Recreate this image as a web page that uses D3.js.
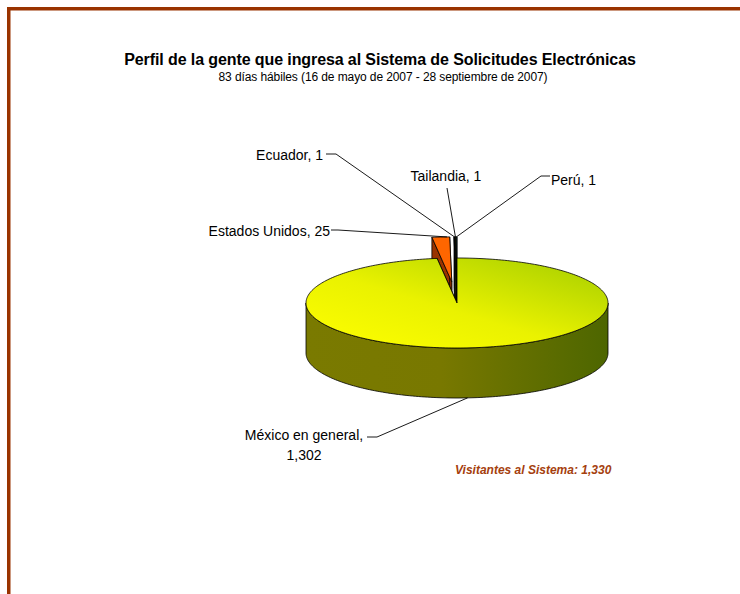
<!DOCTYPE html>
<html>
<head>
<meta charset="utf-8">
<script src="https://cdn.jsdelivr.net/npm/d3@7"></script>
<style>
  body { margin: 0; background: #fff; }
  svg text { font-family: "Liberation Sans", Arial, sans-serif; }
</style>
</head>
<body>
<svg id="chart"></svg>
<script>
// Data
var countries = ["México en general", "Estados Unidos", "Ecuador", "Tailandia", "Perú"];
var visitors = [1302, 25, 1, 1, 1];
var totalLabel = "Visitantes al Sistema: 1,330";
var title = "Perfil de la gente que ingresa al Sistema de Solicitudes Electrónicas";
var subtitle = "83 días hábiles (16 de mayo de 2007 - 28 septiembre de 2007)";

// Style
var explode = [0, 0.47, 0.47, 0.47, 0.47];
var topColors = ["url(#mexTop)", "#ff6600", "#1f4e79", "#ffff00", "#2e8b9a"];
var sideColors = ["url(#mexSide)", "#993300", "#0f2a44", "#99991a", "#1b5560"];

// Label placement: text anchor point, where the short tick ends, which slice it points at
var labelLayout = [
    {x: 304, y: 440, anchor: "middle", tick: [[367, 437], [377, 437]], bottom: true, lines: 2},
    {x: 330, y: 236, anchor: "end", tick: [[331, 230], [338, 230]], at: 0.85},
    {x: 323, y: 160, anchor: "end", tick: [[326, 154], [336, 154]], at: 0.5},
    {x: 446, y: 181, anchor: "middle", tick: [[447, 188], [447, 188]], at: 0.5},
    {x: 551, y: 185, anchor: "start", tick: [[550, 176], [541, 176]], at: 0.5}
];

var dims = {width: 740, height: 594, cx: 457, cy: 303, rx: 151, ry: 45, depth: 50};

renderChart();

function renderChart(){
    var svg = d3.select("#chart")
        .attr("width", dims.width)
        .attr("height", dims.height);

    attachGradients(svg);
    attachBorder(svg);
    attachTitles(svg);

    var slices = d3.pie().sort(null).startAngle(0).endAngle(2 * Math.PI)(visitors);
    var pieGroup = svg.append("g");

    // back (exploded) slices first, the big slice last
    [1, 2, 3, 4, 0].forEach(function(i){
        drawSlice(pieGroup, slices[i], i);
    });

    attachLabels(svg, slices);

    svg.append("text")
        .attr("x", 455)
        .attr("y", 474)
        .attr("font-size", 12)
        .attr("font-weight", "bold")
        .attr("font-style", "italic")
        .attr("fill", "#a5400e")
        .text(totalLabel);
}

function attachGradients(svg){
    var defs = svg.append("defs");
    var top = defs.append("linearGradient")
        .attr("id", "mexTop")
        .attr("x1", "0%").attr("y1", "100%")
        .attr("x2", "100%").attr("y2", "0%");
    top.append("stop").attr("offset", "0%").attr("stop-color", "#ffff00");
    top.append("stop").attr("offset", "45%").attr("stop-color", "#eaf200");
    top.append("stop").attr("offset", "100%").attr("stop-color", "#a2cc00");

    var side = defs.append("linearGradient")
        .attr("id", "mexSide")
        .attr("x1", "0%").attr("y1", "0%")
        .attr("x2", "100%").attr("y2", "0%");
    side.append("stop").attr("offset", "0%").attr("stop-color", "#7a7a00");
    side.append("stop").attr("offset", "45%").attr("stop-color", "#787800");
    side.append("stop").attr("offset", "100%").attr("stop-color", "#4d6600");
}

function attachBorder(svg){
    svg.append("path")
        .attr("d", "M8.75," + dims.height + "V8.75H" + dims.width)
        .attr("fill", "none")
        .attr("stroke", "#993300")
        .attr("stroke-width", 3.5);
}

function attachTitles(svg){
    svg.append("text")
        .attr("x", 380)
        .attr("y", 65)
        .attr("text-anchor", "middle")
        .attr("font-size", 16)
        .attr("font-weight", "bold")
        .attr("letter-spacing", -0.1)
        .text(title);
    svg.append("text")
        .attr("x", 383)
        .attr("y", 81)
        .attr("text-anchor", "middle")
        .attr("font-size", 12)
        .attr("letter-spacing", -0.1)
        .text(subtitle);
}

// point on the pie: angle clockwise from 12 o'clock, r as fraction of the radius
function point(angle, r, dz, off){
    return [
        dims.cx + off[0] + r * dims.rx * Math.sin(angle),
        dims.cy + off[1] - r * dims.ry * Math.cos(angle) + dz
    ];
}

function arcPoints(a0, a1, dz, off){
    var n = Math.max(2, Math.ceil(Math.abs(a1 - a0) / 0.02));
    return d3.range(n + 1).map(function(k){
        return point(a0 + (a1 - a0) * k / n, 1, dz, off);
    });
}

function sliceOffset(slice, i){
    var mid = (slice.startAngle + slice.endAngle) / 2;
    return [explode[i] * dims.rx * Math.sin(mid), -explode[i] * dims.ry * Math.cos(mid)];
}

function drawSlice(g, slice, i){
    var line = d3.line();
    var off = sliceOffset(slice, i);
    var a0 = slice.startAngle, a1 = slice.endAngle, d = dims.depth;
    var style = function(sel, fill){
        sel.attr("fill", fill)
            .attr("stroke", "#000")
            .attr("stroke-width", 0.8)
            .attr("stroke-linejoin", "round");
    };

    // radial walls
    [a0, a1].forEach(function(a){
        g.append("path")
            .attr("d", line([point(0, 0, 0, off), point(a, 1, 0, off), point(a, 1, d, off), point(0, 0, d, off)]) + "Z")
            .call(style, sideColors[i]);
    });

    // front curved wall
    var s = Math.max(a0, Math.PI / 2), e = Math.min(a1, 3 * Math.PI / 2);
    if (e > s){
        var wall = arcPoints(s, e, 0, off).concat(arcPoints(e, s, d, off));
        g.append("path")
            .attr("d", line(wall) + "Z")
            .call(style, sideColors[i]);
    }

    // top face
    var face = [point(0, 0, 0, off)].concat(arcPoints(a0, a1, 0, off));
    g.append("path")
        .attr("d", line(face) + "Z")
        .call(style, topColors[i]);
}

function attachLabels(svg, slices){
    var fmt = d3.format(",");
    var line = d3.line();
    labelLayout.forEach(function(lab, i){
        var slice = slices[i];
        var off = sliceOffset(slice, i);
        var end;
        if (lab.bottom){
            // leader touches the lower rim just right of the front
            end = point(Math.PI - 0.07, 1, dims.depth, off);
        } else {
            end = point(slice.startAngle + (slice.endAngle - slice.startAngle) * lab.at, 1, 0, off);
        }
        svg.append("path")
            .attr("d", line([lab.tick[0], lab.tick[1], end]))
            .attr("fill", "none")
            .attr("stroke", "#000")
            .attr("stroke-width", 0.9);

        var text = svg.append("text")
            .attr("x", lab.x)
            .attr("y", lab.y)
            .attr("text-anchor", lab.anchor)
            .attr("font-size", 14)
            .attr("fill", "#000");
        if (lab.lines === 2){
            text.append("tspan").attr("x", lab.x).text(countries[i] + ",");
            text.append("tspan").attr("x", lab.x).attr("dy", 20).text(fmt(visitors[i]));
        } else {
            text.text(countries[i] + ", " + fmt(visitors[i]));
        }
    });
}
</script>
</body>
</html>
